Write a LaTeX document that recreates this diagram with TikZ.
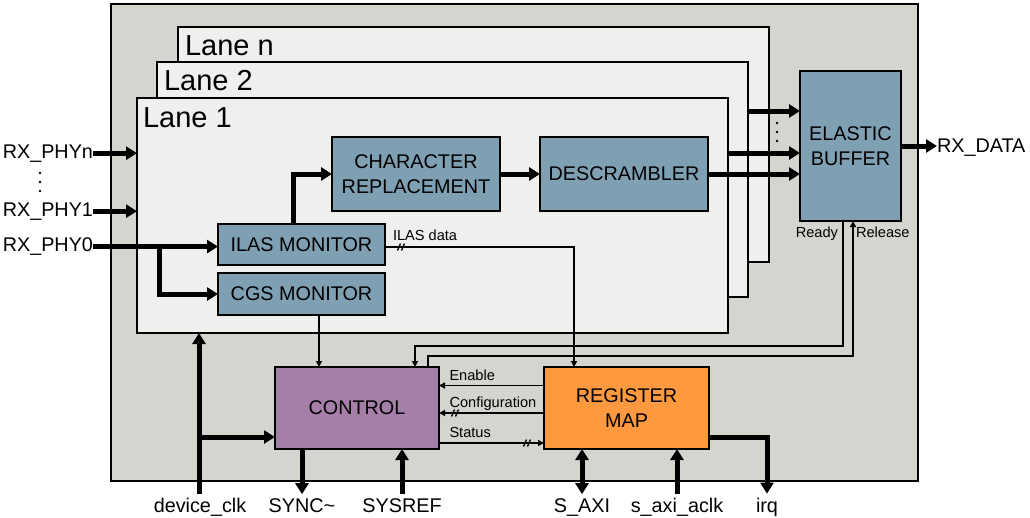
\documentclass[tikz,border=0pt]{standalone}
\usepackage{fontspec}
\setmainfont{Liberation Sans}
\usetikzlibrary{arrows.meta}
\definecolor{outerg}{HTML}{D3D6CF}
\definecolor{lanef}{HTML}{EFEFEE}
\definecolor{blkc}{HTML}{7F9FB3}
\definecolor{ctrlc}{HTML}{A67FA8}
\definecolor{regc}{HTML}{FF9940}
\begin{document}
\begin{tikzpicture}[x=1pt,y=-1pt,
  framebox/.style={draw, line width=2pt, inner sep=0pt, outer sep=0pt, anchor=north west},
  lanebox/.style={draw, line width=1.5pt, fill=lanef, inner sep=0pt, outer sep=0pt, anchor=north west, minimum width=591pt, minimum height=235pt},
  block/.style={draw, line width=1.8pt, inner sep=0pt, outer sep=0pt, align=center, font=\fontsize{19.8}{24.7}\selectfont},
  thickarrow/.style={line width=5pt, -{Triangle[length=11pt,width=13pt]}},
  boththick/.style={line width=5pt, {Triangle[length=11pt,width=13pt]}-{Triangle[length=11pt,width=13pt]}},
  thinarrow/.style={line width=1.8pt, -{Triangle[length=6pt,width=6pt]}},
  biglbl/.style={inner sep=0pt, outer sep=0pt, font=\fontsize{19.8}{24}\selectfont},
  smalllbl/.style={inner sep=0pt, outer sep=0pt, font=\fontsize{14.6}{16}\selectfont},
  lanelbl/.style={inner sep=0pt, outer sep=0pt, font=\fontsize{29}{30}\selectfont},
  hashmk/.pic={\draw[line width=1.3pt] (-3.5,3.5) -- (-0.5,-3.5) (0.5,3.5) -- (3.5,-3.5);},
]
\useasboundingbox (0,0) rectangle (1030,517);

% frames
\node[framebox, fill=outerg, minimum width=807pt, minimum height=477pt] (outer) at (111,4) {};
\node[lanebox] (lanen) at (178,27) {};
\node[lanebox] (lane2) at (157,62) {};
\node[lanebox] (lane1) at (137,98) {};
\node[lanelbl, anchor=base west] (lnl) at (185,55) {Lane n};
\node[lanelbl, anchor=base west] (l2l) at (164,90) {Lane 2};
\node[lanelbl, anchor=base west] (l1l) at (143,127) {Lane 1};

% blocks
\node[block, fill=blkc, minimum width=168pt, minimum height=74pt] (cr) at (416,174) {CHARACTER\\REPLACEMENT};
\node[block, fill=blkc, minimum width=168pt, minimum height=74pt] (ds) at (624,174) {DESCRAMBLER};
\node[block, fill=blkc, minimum width=167pt, minimum height=41pt] (ilas) at (301.5,244.5) {ILAS MONITOR};
\node[block, fill=blkc, minimum width=167pt, minimum height=42pt] (cgs) at (301.5,294) {CGS MONITOR};
\node[block, fill=blkc, minimum width=101pt, minimum height=150pt] (eb) at (850.5,146) {ELASTIC\\BUFFER};
\node[block, fill=ctrlc, minimum width=164pt, minimum height=82pt] (ctrl) at (357,408) {CONTROL};
\node[block, fill=regc, minimum width=165pt, minimum height=82pt] (reg) at (626.5,408) {REGISTER\\MAP};

% outside labels
\node[biglbl, anchor=base east] (rxn) at (93,158) {RX\_PHYn};
\node[biglbl, anchor=base east] (rx1) at (93,216) {RX\_PHY1};
\node[biglbl, anchor=base east] (rx0) at (93,251.5) {RX\_PHY0};
\node[biglbl, anchor=base west] (rxd) at (937,152) {RX\_DATA};
\node[biglbl, anchor=base] (dclk) at (200,512) {device\_clk};
\node[biglbl, anchor=base] (sync) at (302,512) {SYNC\textasciitilde};
\node[biglbl, anchor=base] (sysref) at (402,512) {SYSREF};
\node[biglbl, anchor=base] (saxi) at (582,512) {S\_AXI};
\node[biglbl, anchor=base] (aclk) at (677,512) {s\_axi\_aclk};
\node[biglbl, anchor=base] (irq) at (767,512) {irq};

% small labels
\node[smalllbl, anchor=base west] (ilasl) at (393,240) {ILAS data};
\node[smalllbl, anchor=base east] (rdyl) at (838,237.5) {Ready};
\node[smalllbl, anchor=base west] (rell) at (856,237.5) {Release};
\node[smalllbl, anchor=base west] (enl) at (449.5,380) {Enable};
\node[smalllbl, anchor=base west] (cfgl) at (449.5,407.5) {Configuration};
\node[smalllbl, anchor=base west] (stl) at (449.5,437.3) {Status};

% dots
\fill (40,173) circle[radius=1.3pt] (40,182) circle[radius=1.3pt] (40,191) circle[radius=1.3pt];
\fill (777,123) circle[radius=1.3pt] (777,132) circle[radius=1.3pt] (777,141) circle[radius=1.3pt];

% helper coordinates
\coordinate (phyx) at (159,0);
\coordinate (ilcx) at (293,0);
\coordinate (l1out) at (0,153);
\coordinate (l2out) at (0,111);
\coordinate (readyx) at (843,0);
\coordinate (ctrlinx) at (415,0);
\coordinate (relx) at (853,0);
\coordinate (ctrloutx) at (428,0);
\coordinate (ilasy) at (0,247);
\coordinate (regix) at (574,0);
\coordinate (cgsx) at (319,0);
\coordinate (eny) at (0,385.5);
\coordinate (cfgy) at (0,413);
\coordinate (sty) at (0,443);
\coordinate (clky) at (0,437);
\coordinate (irqy) at (0,437);
\coordinate (clkx) at (199,0);

% input arrows
\draw[thickarrow] (rxn.east) -- (rxn.east -| lane1.west);
\draw[thickarrow] (rx1.east) -- (rx1.east -| lane1.west);
\draw[thickarrow] (rx0.east) -- (rx0.east -| ilas.west);
\draw[thickarrow] (phyx |- rx0.east) |- (cgs.west);

% data path
\draw[thickarrow] (ilcx |- ilas.north) |- (cr.west);
\draw[thickarrow] (cr.east) -- (ds.west);
\draw[thickarrow] (ds.east) -- (ds.east -| eb.west);
\draw[thickarrow] (l1out -| lane1.east) -- (l1out -| eb.west);
\draw[thickarrow] (l2out -| lane2.east) -- (l2out -| eb.west);
\draw[thickarrow] (eb.east) -- (eb.east -| rxd.west);

% control signals
\draw[thinarrow] (readyx |- eb.south) -- ++(0,125) -| (ctrlinx |- ctrl.north);
\draw[thinarrow] (ctrloutx |- ctrl.north) -- ++(0,-11) -| (relx |- eb.south);
\draw[thinarrow] (ilasy -| ilas.east) -| (regix |- reg.north);
\pic at (401,247) {hashmk};
\draw[thinarrow] (cgsx |- cgs.south) -- (cgsx |- ctrl.north);
\draw[thinarrow] (eny -| reg.west) -- (eny -| ctrl.east);
\draw[thinarrow] (cfgy -| reg.west) -- (cfgy -| ctrl.east);
\pic at (455,413) {hashmk};
\draw[thinarrow] (sty -| ctrl.east) -- (sty -| reg.west);
\pic at (527,443) {hashmk};

% bottom connections
\draw[thickarrow] ([yshift=4pt]clkx |- dclk.north) -- (clkx |- lane1.south);
\draw[thickarrow] (clkx |- clky) -- (clky -| ctrl.west);
\draw[thickarrow] (sync.north |- ctrl.south) -- ([yshift=4pt]sync.north);
\draw[thickarrow] ([yshift=4pt]sysref.north) -- (sysref.north |- ctrl.south);
\draw[boththick] ([yshift=4pt]saxi.north) -- (saxi.north |- reg.south);
\draw[thickarrow] ([yshift=4pt]aclk.north) -- (aclk.north |- reg.south);
\draw[thickarrow] (irqy -| reg.east) -| ([yshift=4pt]irq.north);
\end{tikzpicture}
\end{document}
